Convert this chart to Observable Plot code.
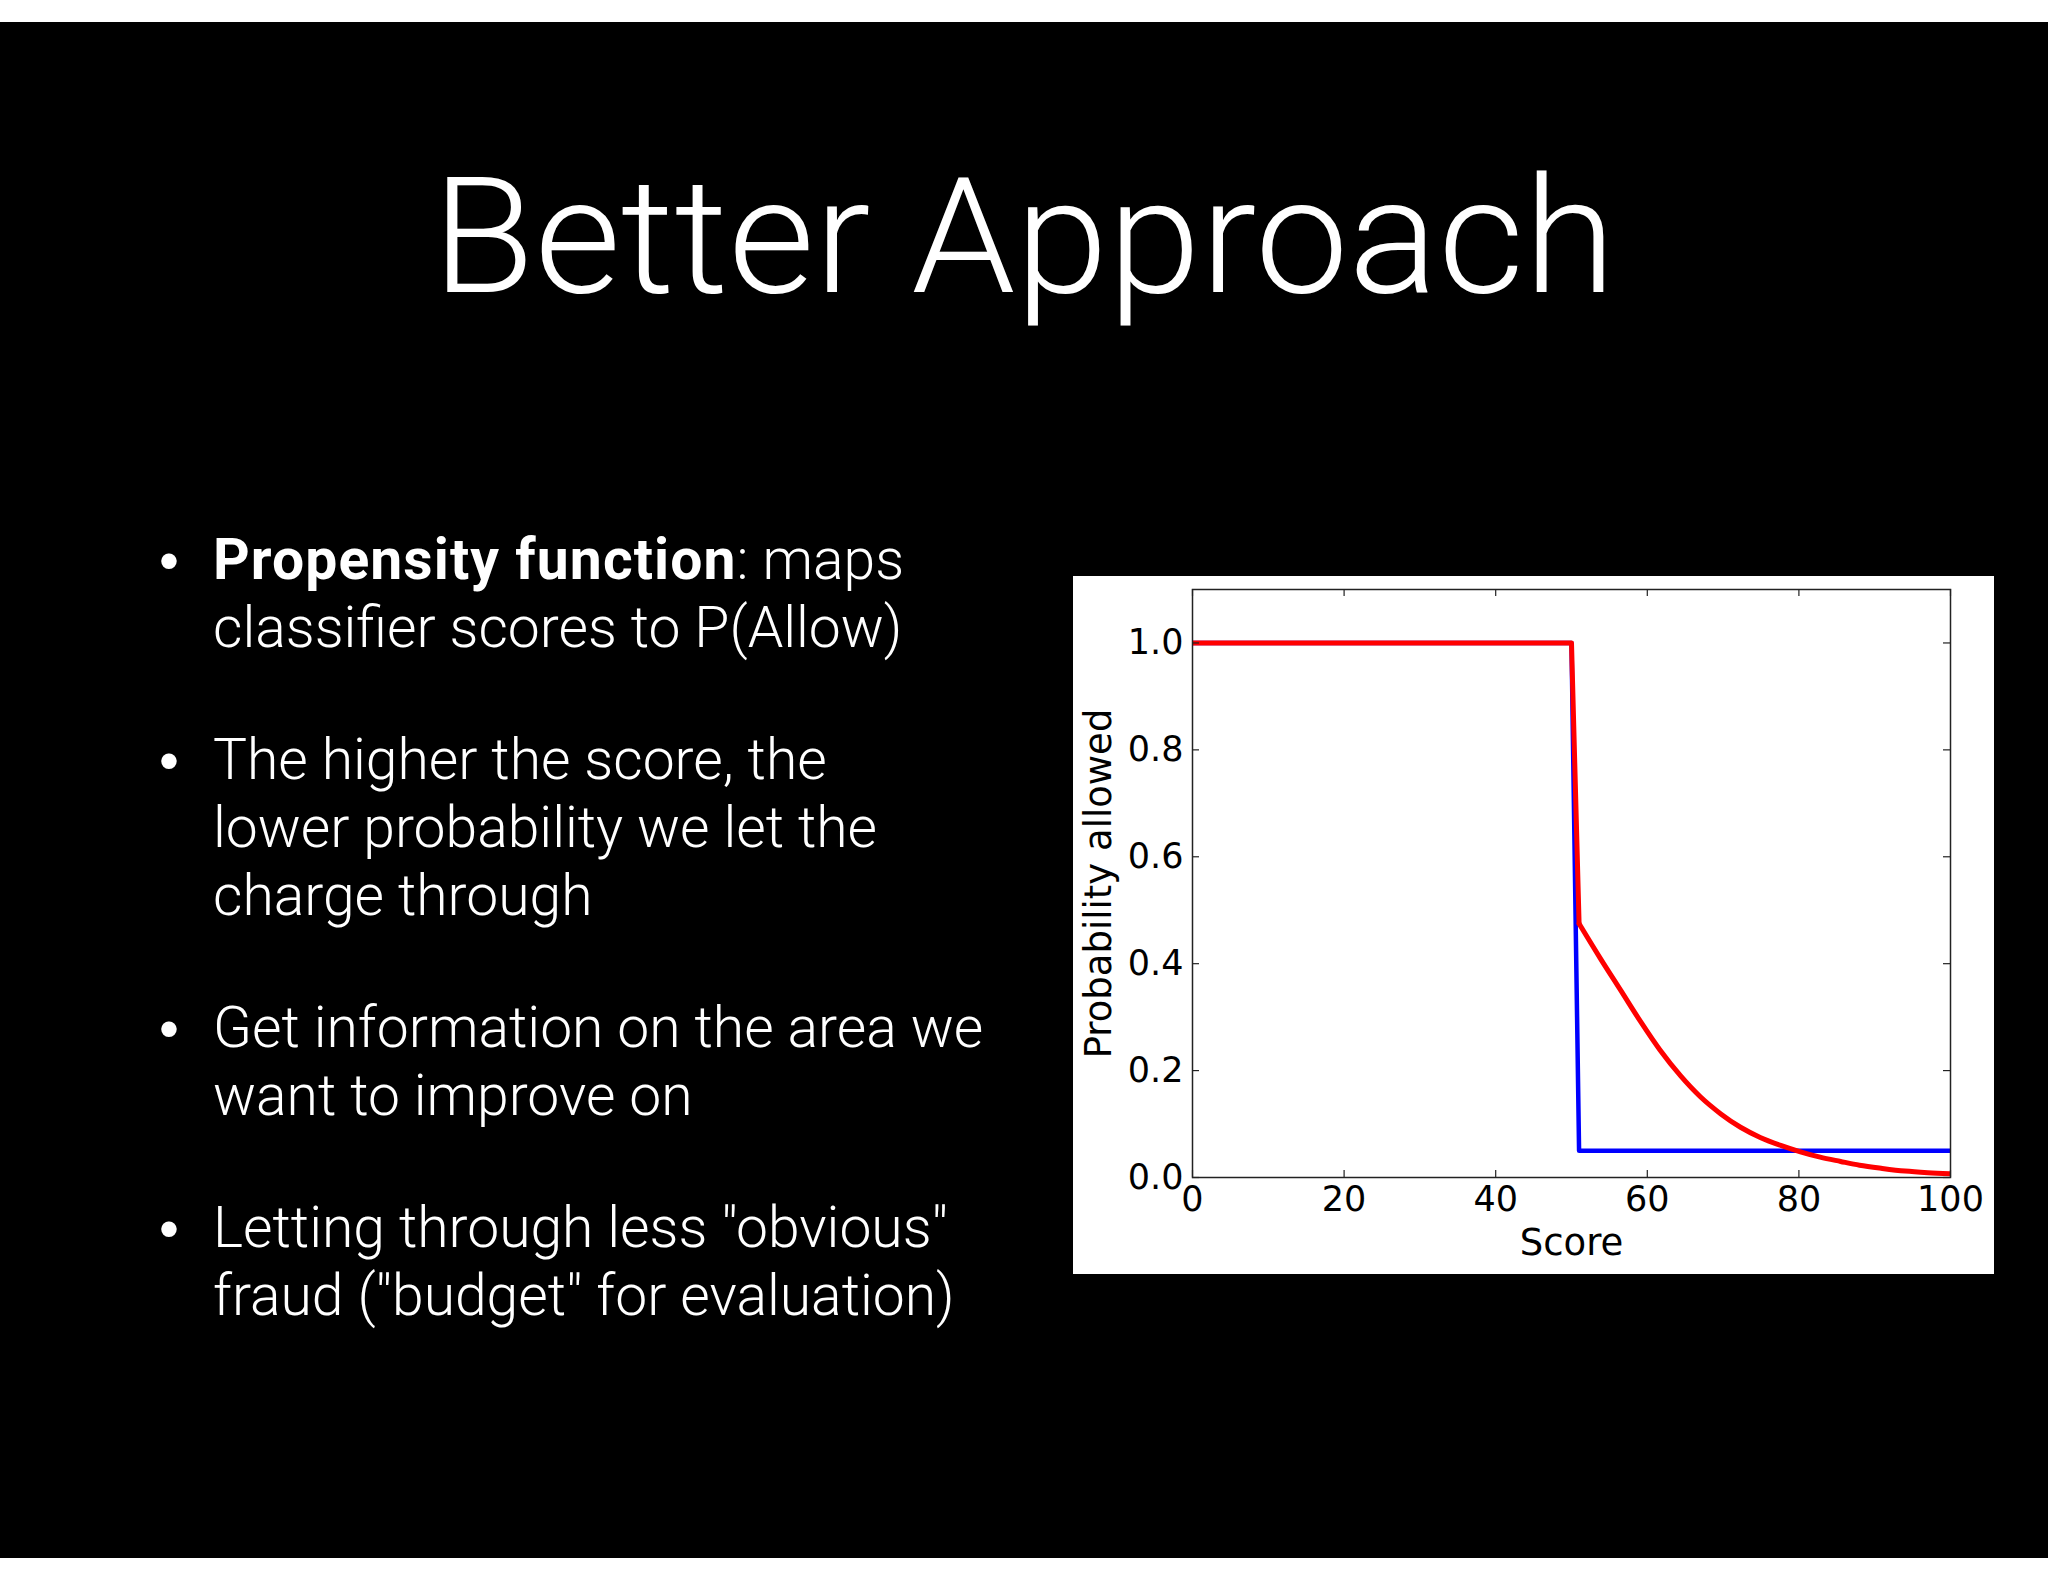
<!DOCTYPE html>
<html>
<head>
<meta charset="utf-8">
<script src="https://cdn.jsdelivr.net/npm/d3@7"></script>
<script src="https://cdn.jsdelivr.net/npm/@observablehq/plot@0.6"></script>
<style>
  html, body { margin: 0; padding: 0; background: #ffffff; }
  body { width: 2048px; height: 1582px; position: relative; overflow: hidden; }
  #slide { position: absolute; left: 0; top: 22px; width: 2048px; height: 1536px; background: #000; }
  #title { position: absolute; left: 0; width: 2048px; top: 157px; text-align: center;
    font-family: "Roboto", "Liberation Sans", Arial, sans-serif; font-size: 161px; line-height: 161px; color: #fff; font-weight: 300;
    transform: scaleX(1.036); transform-origin: 1024px 0; }
  #bullets { position: absolute; left: 213px; top: 526px; font-family: "Roboto", "Liberation Sans", Arial, sans-serif;
    font-size: 57px; line-height: 68px; color: #fff; font-weight: 300; }
  #bullets b { font-weight: 700; letter-spacing: 1.1px; }
  .bullet { position: relative; margin-bottom: 64px; }
  .bullet::before { content: "•"; position: absolute; left: -54px; top: 0; font-family: "Liberation Sans", Arial, sans-serif; font-weight: 400; }
  #chartbox { position: absolute; left: 1073px; top: 576px; width: 921px; height: 698px; background: #fff; }
</style>
</head>
<body>
<div id="slide"></div>
<div id="title">Better Approach</div>
<div id="bullets">
  <div class="bullet"><b>Propensity function</b>: maps<br>classifier scores to P(Allow)</div>
  <div class="bullet">The higher the score, the<br>lower probability we let the<br>charge through</div>
  <div class="bullet">Get information on the area we<br>want to improve on</div>
  <div class="bullet">Letting through less "obvious"<br>fraud ("budget" for evaluation)</div>
</div>
<div id="chartbox"></div>
<script>
// Data
const blueScore = [0, 50, 51, 100];
const blueProb  = [1.0, 1.0, 0.05, 0.05];

// red: a step part and a smooth decaying part
const redStepScore = [0, 50, 51];
const redStepProb  = [1.0, 1.0, 0.475];
const redTailScore = [51, 53.8, 56.5, 59.1, 61.7, 64.4, 67.0, 69.7, 72.3, 74.9, 77.6, 80.2, 82.8, 85.5, 88, 91, 94, 97, 100];
const redTailProb  = [0.475, 0.410, 0.350, 0.292, 0.238, 0.190, 0.151, 0.119, 0.094, 0.075, 0.060, 0.048, 0.038, 0.030, 0.023, 0.017, 0.012, 0.009, 0.007];

const xTicks = [0, 20, 40, 60, 80, 100];
const yTicks = [0.0, 0.2, 0.4, 0.6, 0.8, 1.0];
const xLabel = "Score";
const yLabel = "Probability allowed";

const blueData = blueScore.map((s, i) => ({score: s, prob: blueProb[i]}));
const redStep = redStepScore.map((s, i) => ({score: s, prob: redStepProb[i]}));
const redTail = redTailScore.map((s, i) => ({score: s, prob: redTailProb[i]}));

const W = 921, H = 698, mL = 119, mT = 13, mR = 44, mB = 97;
const innerW = W - mL - mR, innerH = H - mT - mB;
const tickLen = 7;

const chart = Plot.plot({
  width: W, height: H,
  marginLeft: mL, marginTop: mT, marginRight: mR, marginBottom: mB,
  x: {domain: [0, 100]},
  y: {domain: [0, 1.1]},
  style: {fontFamily: "DejaVu Sans", fontSize: "35px", background: "#fff", color: "#000", overflow: "visible"},
  marks: [
    Plot.line(blueData, {x: "score", y: "prob", stroke: "#0000ff", strokeWidth: 4.5, clip: true}),
    Plot.line(redStep, {x: "score", y: "prob", stroke: "#ff0000", strokeWidth: 5, clip: true}),
    Plot.line(redTail, {x: "score", y: "prob", stroke: "#ff0000", strokeWidth: 5, curve: "monotone-x", clip: true}),
    Plot.tickX(xTicks, {x: d => d, insetTop: innerH - tickLen, stroke: "#222", strokeWidth: 1.2}),
    Plot.tickX(xTicks, {x: d => d, insetBottom: innerH - tickLen, stroke: "#222", strokeWidth: 1.2}),
    Plot.tickY(yTicks, {y: d => d, insetRight: innerW - tickLen, stroke: "#222", strokeWidth: 1.2}),
    Plot.tickY(yTicks, {y: d => d, insetLeft: innerW - tickLen, stroke: "#222", strokeWidth: 1.2}),
    Plot.frame({stroke: "#222", strokeWidth: 1.5}),
    Plot.axisX(xTicks, {tickSize: 0, tickPadding: 9, tickFormat: d => String(d), fontSize: 35, label: null}),
    Plot.axisY(yTicks, {tickSize: 0, tickPadding: 9, tickFormat: d => d.toFixed(1), fontSize: 35, label: null}),
    Plot.text([xLabel], {text: d => d, frameAnchor: "bottom", textAnchor: "middle", lineAnchor: "middle", dy: 66, fontSize: 37, fill: "#000"}),
    Plot.text([yLabel], {text: d => d, frameAnchor: "left", textAnchor: "middle", lineAnchor: "middle", rotate: -90, dx: -93, fontSize: 37, fill: "#000"})
  ]
});
document.getElementById("chartbox").appendChild(chart);
</script>
</body>
</html>
